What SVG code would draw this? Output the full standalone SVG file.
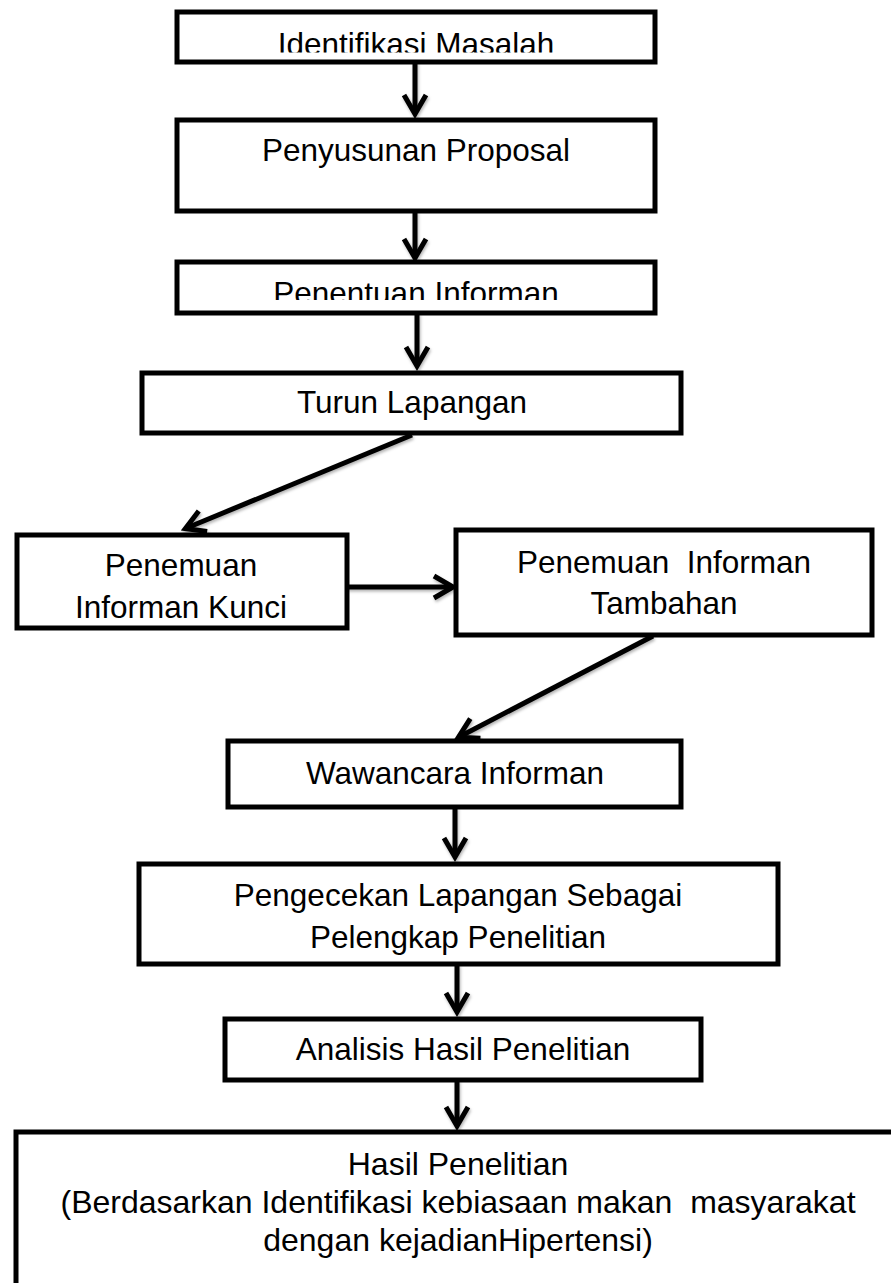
<svg xmlns="http://www.w3.org/2000/svg" width="891" height="1283" viewBox="0 0 891 1283">
<style>
.box{fill:#fff;stroke:#000;stroke-width:5}
.t{font-family:"Liberation Sans",Arial,sans-serif;font-size:31.5px;fill:#000;text-anchor:middle;white-space:pre}
.tb{font-size:32px}
.c{fill:none;stroke:#000;stroke-width:5;marker-end:url(#ah)}
</style>
<defs>
<filter id="sh" x="-20%" y="-20%" width="140%" height="140%">
<feDropShadow dx="1" dy="2" stdDeviation="1.5" flood-color="#000" flood-opacity="0.3"/>
</filter>
<marker id="ah" markerUnits="userSpaceOnUse" markerWidth="40" markerHeight="40" refX="0" refY="0" orient="auto" overflow="visible">
<path d="M-19,-11 L0,0 L-19,11" fill="none" stroke="#000" stroke-width="5" stroke-linejoin="miter"/>
</marker>
<clipPath id="clip1"><rect x="180" y="14" width="472" height="38.5"/></clipPath>
<clipPath id="clip3"><rect x="180" y="264" width="472" height="36"/></clipPath>
</defs>
<rect width="891" height="1283" fill="#fff"/>
<g id="connectors" filter="url(#sh)">
<line class="c" x1="415" y1="62" x2="415" y2="114"/>
<line class="c" x1="415" y1="211" x2="415" y2="258"/>
<line class="c" x1="417" y1="313" x2="417" y2="366"/>
<line class="c" x1="412" y1="435" x2="185.4" y2="528.5"/>
<line class="c" x1="347" y1="587" x2="453" y2="587"/>
<line class="c" x1="653" y1="636" x2="458.5" y2="737.2"/>
<line class="c" x1="455" y1="807" x2="455" y2="857"/>
<line class="c" x1="457" y1="964" x2="457" y2="1012"/>
<line class="c" x1="457" y1="1080" x2="457" y2="1126"/>
</g>
<g id="n1">
<rect class="box" x="177" y="12" width="478" height="50"/>
<text class="t" x="416" y="55" clip-path="url(#clip1)">Identifikasi Masalah</text>
</g>
<g id="n2">
<rect class="box" x="177" y="120" width="478" height="91"/>
<text class="t" x="416" y="161">Penyusunan Proposal</text>
</g>
<g id="n3">
<rect class="box" x="177" y="262" width="478" height="51"/>
<text class="t" x="416" y="304" clip-path="url(#clip3)">Penentuan Informan</text>
</g>
<g id="n4">
<rect class="box" x="142" y="373" width="539" height="60"/>
<text class="t" x="412" y="413">Turun Lapangan</text>
</g>
<g id="n5">
<rect class="box" x="17" y="535" width="330" height="93"/>
<text class="t" x="181" y="576">Penemuan</text>
<text class="t" x="181" y="618">Informan Kunci</text>
</g>
<g id="n6">
<rect class="box" x="456" y="530" width="416" height="105"/>
<text class="t" x="664" y="573" xml:space="preserve">Penemuan  Informan</text>
<text class="t" x="664" y="614">Tambahan</text>
</g>
<g id="n7">
<rect class="box" x="228" y="741" width="453" height="66"/>
<text class="t" x="455" y="784">Wawancara Informan</text>
</g>
<g id="n8">
<rect class="box" x="139" y="864" width="639" height="100"/>
<text class="t" x="458" y="906">Pengecekan Lapangan Sebagai</text>
<text class="t" x="458" y="948">Pelengkap Penelitian</text>
</g>
<g id="n9">
<rect class="box" x="225" y="1019" width="476" height="61"/>
<text class="t" x="463" y="1060">Analisis Hasil Penelitian</text>
</g>
<g id="n10">
<rect class="box" x="16" y="1132" width="900" height="200"/>
<text class="t tb" x="458" y="1175">Hasil Penelitian</text>
<text class="t tb" x="458" y="1213" xml:space="preserve">(Berdasarkan Identifikasi kebiasaan makan  masyarakat</text>
<text class="t tb" x="458" y="1251">dengan kejadianHipertensi)</text>
</g>
</svg>
